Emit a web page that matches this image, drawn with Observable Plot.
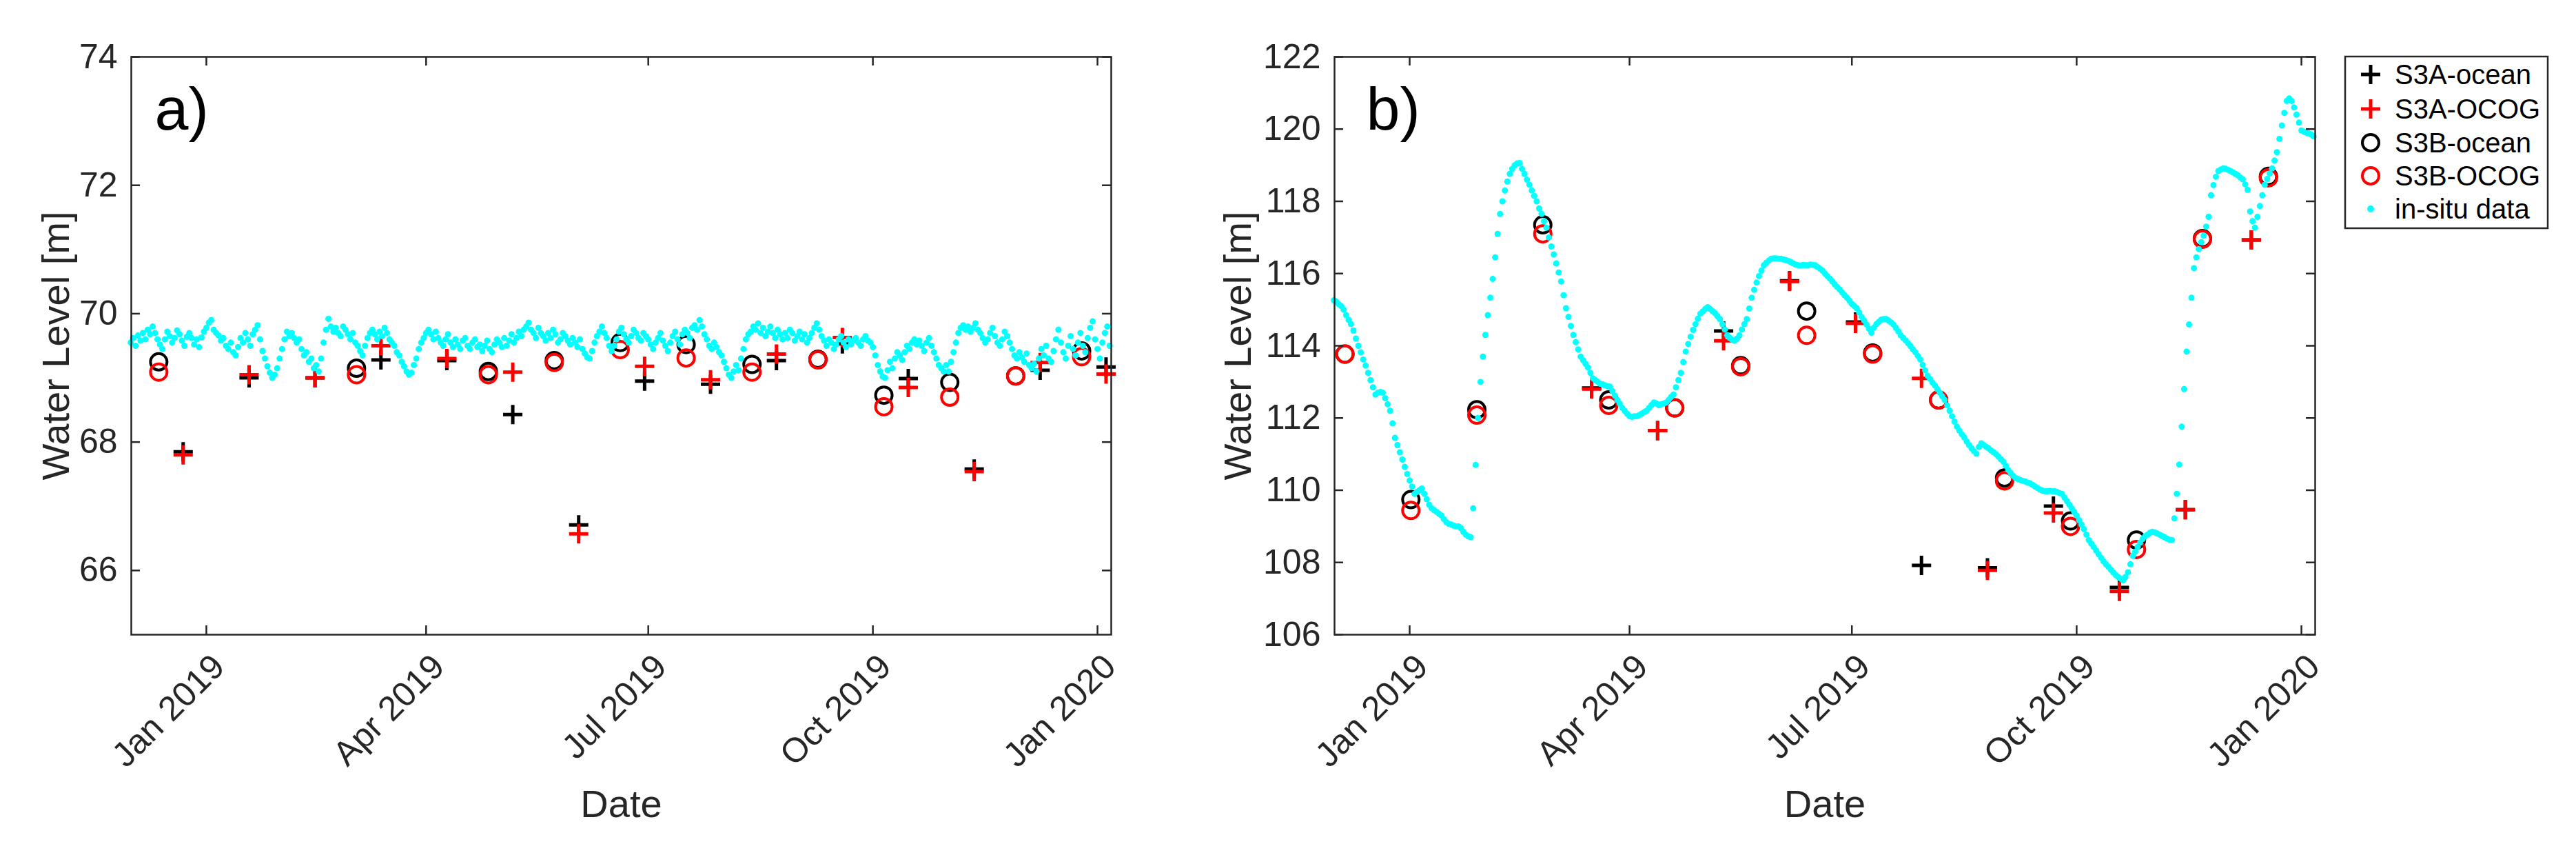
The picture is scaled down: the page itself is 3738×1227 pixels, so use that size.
<!DOCTYPE html>
<html><head><meta charset="utf-8">
<script src="https://cdn.jsdelivr.net/npm/d3@7"></script>
<script src="https://cdn.jsdelivr.net/npm/@observablehq/plot@0.6"></script>
<style>
html,body{margin:0;padding:0;background:#fff;}
#fig{position:relative;width:3738px;height:1227px;overflow:hidden;background:#fff;}
#fig > svg{position:absolute;top:0;}
</style></head><body><div id="fig"></div>
<script>
// ---------- data ----------
const insituStart = "2018-12-01"; // daily series start
const insituA = [
// Dec 2018
69.55,69.62,69.5,69.66,69.58,69.7,69.6,69.75,69.68,69.8,69.7,69.6,69.52,69.45,69.6,69.72,69.65,69.55,69.62,69.74,69.68,69.58,69.5,69.64,69.7,69.62,69.52,69.6,69.48,69.63,69.72,
// Jan 2019
69.78,69.86,69.9,69.75,69.7,69.66,69.58,69.62,69.5,69.45,69.55,69.4,69.35,69.48,69.62,69.55,69.7,69.6,69.5,69.68,69.75,69.82,69.6,69.42,69.3,69.18,69.08,69.0,69.05,69.15,69.3,
// Feb
69.45,69.6,69.72,69.65,69.7,69.62,69.55,69.6,69.45,69.35,69.4,69.25,69.3,69.15,69.2,69.1,69.3,69.55,69.75,69.92,69.8,69.72,69.78,69.7,69.65,69.8,69.75,69.68,
// Mar
69.6,69.7,69.55,69.5,69.42,69.35,69.5,69.62,69.7,69.75,69.68,69.6,69.72,69.65,69.78,69.7,69.6,69.55,69.5,69.4,69.35,69.25,69.18,69.1,69.05,69.08,69.2,69.3,69.45,69.55,69.62,
// Apr
69.7,69.75,69.68,69.6,69.72,69.62,69.55,69.5,69.6,69.68,69.55,69.48,69.6,69.52,69.45,69.58,69.62,69.5,69.45,69.55,69.6,69.48,69.52,69.42,69.5,69.58,69.45,69.4,69.52,69.6,
// May
69.55,69.48,69.62,69.5,69.58,69.68,69.55,69.62,69.72,69.65,69.75,69.8,69.86,69.75,69.7,69.62,69.78,69.7,69.65,69.58,69.7,69.62,69.75,69.68,69.55,69.6,69.7,69.65,69.58,69.52,69.62,
// Jun
69.55,69.48,69.6,69.45,69.38,69.32,69.3,69.42,69.55,69.65,69.72,69.8,69.7,69.62,69.5,69.42,69.5,69.6,69.72,69.78,69.68,69.6,69.55,69.65,69.75,69.7,69.62,69.58,69.7,69.65,
// Jul
69.6,69.52,69.45,69.55,69.62,69.7,69.58,69.5,69.42,69.55,69.65,69.72,69.6,69.52,69.68,69.75,69.7,69.62,69.78,69.82,69.75,69.9,69.8,69.68,69.6,69.5,69.45,69.55,69.48,69.4,69.35,
// Aug
69.25,69.15,69.05,69.0,69.1,69.2,69.12,69.3,69.45,69.6,69.68,69.72,69.8,69.75,69.85,69.7,69.78,69.65,69.72,69.8,69.7,69.62,69.75,69.68,69.6,69.7,69.62,69.75,69.7,69.58,69.65,
// Sep
69.72,69.6,69.68,69.55,69.62,69.7,69.78,69.85,69.75,69.65,69.58,69.5,69.6,69.55,69.45,69.52,69.6,69.65,69.55,69.48,69.6,69.52,69.58,69.62,69.55,69.5,69.6,69.65,69.58,69.55,
// Oct
69.48,69.35,69.2,69.1,69.02,69.0,69.12,69.25,69.15,69.3,69.4,69.35,69.28,69.4,69.5,69.45,69.55,69.6,69.52,69.58,69.5,69.42,69.55,69.62,69.5,69.4,69.3,69.2,69.15,69.1,69.2,
// Nov
69.1,69.25,69.4,69.55,69.7,69.78,69.82,69.75,69.8,69.72,69.78,69.85,69.75,69.7,69.62,69.55,69.6,69.7,69.78,69.65,69.55,69.5,69.6,69.72,69.65,69.55,69.45,69.35,69.3,69.4,
// Dec
69.32,69.25,69.38,69.2,69.15,69.22,69.1,69.3,69.45,69.35,69.5,69.3,69.25,69.42,69.6,69.75,69.55,69.4,69.3,69.5,69.65,69.45,69.35,69.55,69.7,69.5,69.4,69.62,69.78,69.88,69.6,
// Jan 2020
69.45,69.3,69.55,69.7,69.8,69.5
];
const insituB = [
// Dec 2018
115.26,115.22,115.15,115.1,115.0,114.85,114.72,114.6,114.42,114.2,114.0,113.82,113.62,113.45,113.25,113.05,112.85,112.65,112.7,112.72,112.7,112.55,112.38,112.2,111.85,111.45,111.25,111.05,110.85,110.65,110.45,
// Jan 2019
110.27,110.1,109.9,109.95,110.0,110.05,109.9,109.75,109.6,109.5,109.45,109.4,109.35,109.3,109.2,109.12,109.07,109.05,109.02,109.0,109.0,108.95,108.85,108.77,108.72,108.7,109.5,110.7,112.0,113.0,113.7,
// Feb
114.3,114.85,115.33,115.85,116.45,117.1,117.65,118.0,118.3,118.55,118.76,118.9,119.0,119.05,119.06,118.9,118.76,118.6,118.46,118.3,118.15,118.0,117.8,117.65,117.45,117.27,117.0,116.75,
// Mar
116.53,116.28,116.03,115.78,115.4,115.04,114.8,114.55,114.3,114.1,113.9,113.7,113.6,113.5,113.4,113.25,113.1,113.05,113.0,112.95,112.93,112.9,112.88,112.87,112.75,112.62,112.5,112.4,112.28,112.2,112.12,
// Apr
112.05,112.03,112.05,112.05,112.08,112.12,112.16,112.2,112.28,112.36,112.43,112.4,112.35,112.38,112.4,112.43,112.5,112.58,112.65,112.85,113.05,113.25,113.55,113.84,114.05,114.25,114.44,114.6,114.75,114.89,
// May
114.95,115.02,115.07,115.02,114.96,114.9,114.82,114.74,114.6,114.45,114.29,114.22,114.17,114.14,114.2,114.29,114.45,114.6,114.74,115.03,115.33,115.55,115.75,115.93,116.08,116.23,116.3,116.36,116.41,116.42,116.42,
// Jun
116.41,116.41,116.39,116.37,116.35,116.32,116.28,116.25,116.23,116.22,116.24,116.23,116.23,116.25,116.24,116.23,116.18,116.13,116.08,116.0,115.93,115.86,115.78,115.7,115.63,115.56,115.48,115.4,115.33,115.25,
// Jul
115.16,115.1,115.04,114.92,114.8,114.7,114.59,114.47,114.36,114.5,114.6,114.66,114.72,114.74,114.74,114.7,114.65,114.59,114.5,114.4,114.29,114.22,114.15,114.07,113.99,113.9,113.82,113.72,113.62,113.47,113.32,
// Aug
113.17,113.08,112.98,112.9,112.8,112.7,112.6,112.5,112.35,112.2,112.05,111.9,111.76,111.65,111.55,111.46,111.35,111.25,111.16,111.08,111.01,111.2,111.3,111.25,111.2,111.16,111.1,111.05,111.0,110.93,110.86,
// Sep
110.79,110.68,110.56,110.48,110.4,110.34,110.31,110.28,110.26,110.24,110.21,110.19,110.15,110.1,110.06,110.02,109.99,109.97,109.97,109.98,109.97,109.97,109.95,109.92,109.9,109.8,109.7,109.6,109.5,109.4,
// Oct
109.3,109.17,109.05,108.92,108.77,108.62,108.52,108.43,108.33,108.23,108.13,108.03,107.95,107.88,107.8,107.72,107.65,107.6,107.55,107.5,107.6,107.73,107.95,108.18,108.3,108.43,108.55,108.65,108.72,108.77,108.82,
// Nov
108.85,108.83,108.8,108.77,108.73,108.7,108.66,108.63,108.62,109.22,109.9,110.71,111.76,112.8,113.84,114.59,115.33,116.15,116.45,116.68,116.87,117.05,117.3,117.57,118.17,118.45,118.68,118.84,118.88,118.91,
// Dec
118.9,118.87,118.84,118.8,118.76,118.72,118.66,118.61,118.47,118.32,117.72,117.45,117.27,117.57,117.87,118.17,118.46,118.62,118.77,118.91,119.13,119.36,119.73,120.1,120.45,120.78,120.85,120.78,120.6,120.4,120.18,
// Jan 2020
119.96,119.93,119.9,119.88,119.85,119.8
];

// Panel a satellite passes (passes at ~12:00 UTC)
const s3aDatesA = ["2018-12-22","2019-01-18","2019-02-14","2019-03-13","2019-04-09","2019-05-06","2019-06-02","2019-06-29","2019-07-26","2019-08-22","2019-09-18","2019-10-15","2019-11-11","2019-12-08","2020-01-04"];
const s3aOceanA = [67.85,69.0,69.0,69.28,69.27,68.43,66.71,68.95,68.9,69.27,69.53,68.99,67.58,69.12,69.17];
const s3aOcogA  = [67.8,69.05,69.0,69.5,69.3,69.09,66.57,69.18,68.97,69.37,69.63,68.85,67.54,69.24,69.06];
const s3bDatesA = ["2018-12-12","2019-03-03","2019-04-26","2019-05-23","2019-06-19","2019-07-16","2019-08-12","2019-09-08","2019-10-05","2019-11-01","2019-11-28","2019-12-25"];
const s3bOceanA = [69.25,69.15,69.1,69.27,69.55,69.52,69.21,69.29,68.73,68.93,69.03,69.42];
const s3bOcogA  = [69.09,69.05,69.05,69.24,69.44,69.31,69.09,69.28,68.55,68.7,69.03,69.33];

// Panel b satellite passes
const s3aDatesB = ["2019-03-16","2019-04-12","2019-05-09","2019-06-05","2019-07-02","2019-07-29","2019-08-25","2019-09-21","2019-10-18","2019-11-14","2019-12-11"];
const s3aOceanB = [112.83,111.65,114.41,115.8,114.66,107.92,107.85,109.56,107.31,109.46,116.93];
const s3aOcogB  = [112.8,111.65,114.14,115.78,114.62,113.1,107.78,109.37,107.2,109.46,116.93];
const s3bDatesB = ["2018-12-05","2019-01-01","2019-01-28","2019-02-24","2019-03-23","2019-04-19","2019-05-16","2019-06-12","2019-07-09","2019-08-05","2019-09-01","2019-09-28","2019-10-25","2019-11-21","2019-12-18"];
const s3bOceanB = [113.77,109.74,112.23,117.35,112.5,112.28,113.45,114.96,113.8,112.5,110.34,109.15,108.62,116.97,118.69];
const s3bOcogB  = [113.77,109.44,112.08,117.1,112.35,112.28,113.42,114.29,113.77,112.5,110.26,109.0,108.36,116.95,118.65];

const xTickDates  = ["2019-01-01","2019-04-01","2019-07-01","2019-10-01","2020-01-01"];
const xTickLabels = ["Jan 2019","Apr 2019","Jul 2019","Oct 2019","Jan 2020"];
const yTicksA = [66,68,70,72,74];
const yTicksB = [106,108,110,112,114,116,118,120,122];
const legendLabels = ["S3A-ocean","S3A-OCOG","S3B-ocean","S3B-OCOG","in-situ data"];

// ---------- helpers ----------
const toDate = s => new Date(s + "T00:00:00Z");
const daily = vals => { const t0 = toDate(insituStart).getTime(); return vals.map((v,i)=>({date:new Date(t0 + i*864e5), value:v})); };
const passes = (dates, vals) => dates.map((d,i)=>({date:new Date(toDate(d).getTime()+12*3600e3), value:vals[i]}));
const plusSymbol = {draw(ctx, size){ const h = Math.sqrt(size/Math.PI); ctx.moveTo(-h,0); ctx.lineTo(h,0); ctx.moveTo(0,-h); ctx.lineTo(0,h); }};
const INK = "#262626";
const FONT = '"Liberation Sans", Arial, Helvetica, sans-serif';

function panel(o){
  const H = 1227, mT = 82, mB = 307;
  const plotH = H - mT - mB, plotW = o.width - o.marginLeft - o.marginRight;
  const xt = xTickDates.map((d,i)=>({date:toDate(d), label:xTickLabels[i]}));
  const svg = Plot.plot({
    width:o.width, height:H, marginTop:mT, marginBottom:mB, marginLeft:o.marginLeft, marginRight:o.marginRight,
    style:{fontFamily:FONT, background:"transparent", overflow:"visible"},
    x:{type:"utc", domain:[new Date("2018-12-01T06:00:00Z"), new Date("2020-01-06T15:00:00Z")], axis:null},
    y:{domain:o.yDomain, axis:null},
    marks:[
      Plot.dot(o.s3aOcean, {x:"date", y:"value", symbol:plusSymbol, r:14, stroke:"#000000", fill:"none", strokeWidth:5}),
      Plot.dot(o.s3aOcog,  {x:"date", y:"value", symbol:plusSymbol, r:14, stroke:"#ff0000", fill:"none", strokeWidth:5}),
      Plot.dot(o.s3bOcean, {x:"date", y:"value", symbol:"circle", r:12, stroke:"#000000", fill:"none", strokeWidth:4}),
      Plot.dot(o.s3bOcog,  {x:"date", y:"value", symbol:"circle", r:12, stroke:"#ff0000", fill:"none", strokeWidth:4}),
      Plot.dot(o.insitu, {x:"date", y:"value", r:4.5, fill:"#00ffff"}),
      Plot.frame({stroke:INK, strokeWidth:2.5}),
      Plot.ruleX(xt, {x:"date", insetTop:plotH-13, stroke:INK, strokeWidth:2.5}),
      Plot.ruleX(xt, {x:"date", insetBottom:plotH-13, stroke:INK, strokeWidth:2.5}),
      Plot.ruleY(o.yTicks, {y:d=>d, insetRight:plotW-13, stroke:INK, strokeWidth:2.5}),
      Plot.ruleY(o.yTicks, {y:d=>d, insetLeft:plotW-13, stroke:INK, strokeWidth:2.5}),
      Plot.text(o.yTicks, {y:d=>d, text:d=>String(d), frameAnchor:"left", dx:-20, textAnchor:"end", lineAnchor:"middle", fontSize:50, fill:INK}),
      Plot.text(xt, {x:"date", text:"label", frameAnchor:"bottom", rotate:-45, textAnchor:"end", lineAnchor:"middle", dx:18, dy:38, fontSize:50, fill:INK}),
      Plot.text(["Water Level [m]"], {text:d=>d, frameAnchor:"left", dx:o.ylabelDx, rotate:-90, textAnchor:"middle", lineAnchor:"middle", fontSize:56, fill:INK}),
      Plot.text(["Date"], {text:d=>d, frameAnchor:"bottom", dy:247, textAnchor:"middle", lineAnchor:"middle", fontSize:56, fill:INK}),
      Plot.text([o.letter], {text:d=>d, frameAnchor:"top-left", dx:o.letterDx, dy:77, textAnchor:"start", lineAnchor:"middle", fontSize:88, fill:"#000"})
    ]
  });
  svg.style.left = o.left + "px";
  return svg;
}

const fig = document.getElementById("fig");
fig.appendChild(panel({
  left:0, width:1700, marginLeft:190, marginRight:88, yDomain:[65,74], yTicks:yTicksA,
  insitu:daily(insituA), s3aOcean:passes(s3aDatesA,s3aOceanA), s3aOcog:passes(s3aDatesA,s3aOcogA),
  s3bOcean:passes(s3bDatesA,s3bOceanA), s3bOcog:passes(s3bDatesA,s3bOcogA),
  letter:"a)", letterDx:34, ylabelDx:-108
}));
fig.appendChild(panel({
  left:1700, width:1680, marginLeft:236, marginRight:21, yDomain:[106,122], yTicks:yTicksB,
  insitu:daily(insituB), s3aOcean:passes(s3aDatesB,s3aOceanB), s3aOcog:passes(s3aDatesB,s3aOcogB),
  s3bOcean:passes(s3bDatesB,s3bOceanB), s3bOcog:passes(s3bDatesB,s3bOcogB),
  letter:"b)", letterDx:46, ylabelDx:-139
}));

// ---------- legend ----------
const lg = d3.create("svg").attr("width",300).attr("height",256)
  .style("left","3400px").style("top","79px").style("font-family",FONT);
lg.append("rect").attr("x",3).attr("y",3).attr("width",294).attr("height",249)
  .attr("fill","#fff").attr("stroke",INK).attr("stroke-width",2.5);
const rowY = [29,79,128,176,224];
const sym = [
  {kind:"plus", color:"#000000"}, {kind:"plus", color:"#ff0000"},
  {kind:"circle", color:"#000000"}, {kind:"circle", color:"#ff0000"},
  {kind:"dot", color:"#00ffff"}
];
legendLabels.forEach((lab,i)=>{
  const g = lg.append("g").attr("transform",`translate(40,${rowY[i]})`);
  const s = sym[i];
  if (s.kind==="plus") g.append("path").attr("d","M-14,0L14,0M0,-14L0,14").attr("stroke",s.color).attr("stroke-width",5).attr("fill","none");
  else if (s.kind==="circle") g.append("circle").attr("r",12).attr("stroke",s.color).attr("stroke-width",4).attr("fill","none");
  else g.append("circle").attr("r",5).attr("fill",s.color);
  lg.append("text").attr("x",75).attr("y",rowY[i]).attr("dy","0.35em").attr("font-size",40).attr("fill","#000").text(lab);
});
fig.appendChild(lg.node());
</script>
</body></html>
